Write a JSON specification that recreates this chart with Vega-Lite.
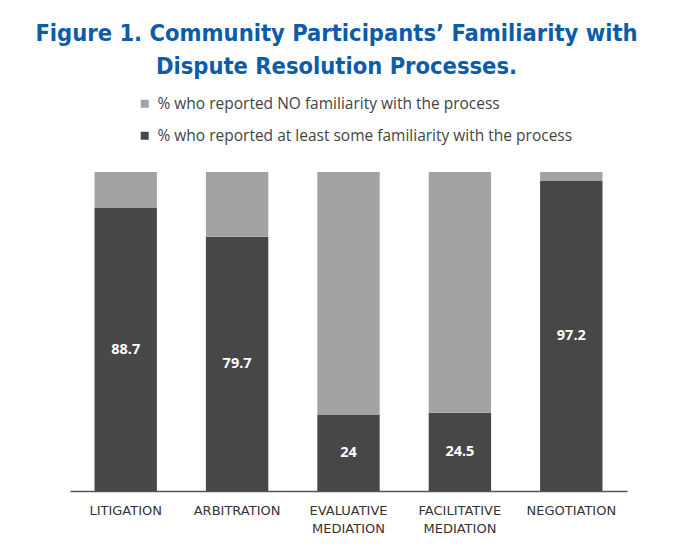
{
  "$schema": "https://vega.github.io/schema/vega-lite/v6.json",
  "width": 557,
  "height": 319,
  "autosize": {"type": "none"},
  "padding": {"left": 70, "top": 172, "right": 50, "bottom": 53},
  "background": "white",
  "title": {
    "text": ["Figure 1. Community Participants’ Familiarity with", "Dispute Resolution Processes."],
    "font": "DejaVu Sans Condensed, Roboto Condensed, Liberation Sans Narrow, Roboto",
    "fontWeight": "bold",
    "fontSize": 23.5,
    "color": "#0d5ca8",
    "anchor": "middle",
    "frame": "group",
    "offset": 18,
    "lineHeight": 33,
    "dx": -12
  },
  "data": {
    "values": [
      {"process": "LITIGATION", "group": "% who reported at least some familiarity with the process", "value": 88.7},
      {"process": "LITIGATION", "group": "% who reported NO familiarity with the process", "value": 11.3},
      {"process": "ARBITRATION", "group": "% who reported at least some familiarity with the process", "value": 79.7},
      {"process": "ARBITRATION", "group": "% who reported NO familiarity with the process", "value": 20.3},
      {"process": "EVALUATIVE MEDIATION", "group": "% who reported at least some familiarity with the process", "value": 24},
      {"process": "EVALUATIVE MEDIATION", "group": "% who reported NO familiarity with the process", "value": 76},
      {"process": "FACILITATIVE MEDIATION", "group": "% who reported at least some familiarity with the process", "value": 24.5},
      {"process": "FACILITATIVE MEDIATION", "group": "% who reported NO familiarity with the process", "value": 75.5},
      {"process": "NEGOTIATION", "group": "% who reported at least some familiarity with the process", "value": 97.2},
      {"process": "NEGOTIATION", "group": "% who reported NO familiarity with the process", "value": 2.8}
    ]
  },
  "config": {"view": {"stroke": null}},
  "layer": [
    {
      "mark": {"type": "bar"},
      "encoding": {
        "x": {
          "field": "process",
          "type": "nominal",
          "sort": null,
          "scale": {"paddingInner": 0.44, "paddingOuter": 0.22},
          "axis": {
            "title": null,
            "labelAngle": 0,
            "labelFont": "DejaVu Sans",
            "labelFontSize": 13,
            "labelColor": "#333333",
            "labelExpr": "split(datum.label, ' ')",
            "labelLineHeight": 18,
            "labelPadding": 13,
            "ticks": false,
            "domainColor": "#555555",
            "domainWidth": 1.5
          }
        },
        "y": {
          "field": "value",
          "type": "quantitative",
          "stack": "zero",
          "scale": {"domain": [0, 100]},
          "axis": null
        },
        "color": {
          "field": "group",
          "type": "nominal",
          "scale": {
            "domain": ["% who reported NO familiarity with the process", "% who reported at least some familiarity with the process"],
            "range": ["#a3a3a3", "#474747"]
          },
          "legend": {
            "orient": "none",
            "legendX": 67,
            "legendY": -76,
            "title": null,
            "direction": "vertical",
            "symbolType": "square",
            "symbolSize": 64,
            "symbolStrokeWidth": 0,
            "labelFont": "Open Sans",
            "labelFontSize": 15.5,
            "labelColor": "#444444",
            "labelOffset": 5,
            "rowPadding": 15,
            "labelLimit": 600,
            "padding": 0
          }
        },
        "order": {"field": "group", "sort": "descending"}
      }
    },
    {
      "transform": [
        {"filter": "datum.group == '% who reported at least some familiarity with the process'"},
        {"calculate": "datum.value / 2", "as": "mid"}
      ],
      "mark": {"type": "text", "color": "white", "font": "Open Sans", "fontWeight": "bold", "fontSize": 14.5},
      "encoding": {
        "x": {"field": "process", "type": "nominal", "sort": null},
        "y": {"field": "mid", "type": "quantitative"},
        "text": {"field": "value", "type": "quantitative"}
      }
    }
  ]
}
